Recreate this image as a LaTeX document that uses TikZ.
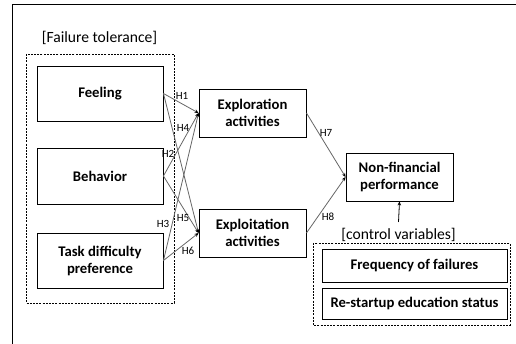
\documentclass[tikz,border=0pt]{standalone}
\usepackage{fontspec}
\setmainfont{Carlito}
\usetikzlibrary{arrows.meta}
\begin{document}
\begin{tikzpicture}[x=1pt,y=-1pt,
  box/.style={draw,line width=0.9pt,align=center,inner sep=0pt,
    font=\bfseries\fontsize{14.7}{17}\selectfont},
  grp/.style={draw,line width=0.9pt,dash pattern=on 2pt off 1.2pt},
  lbl/.style={font=\fontsize{15.6}{17}\selectfont,inner sep=0pt},
  hyp/.style={font=\fontsize{11}{12}\selectfont,inner sep=0pt},
  link/.style={draw=black!60,line width=0.8pt,-{Stealth[length=4pt,width=3.5pt,color=black]}}]
\useasboundingbox (0,0) rectangle (516,344);
\draw[line width=0.9pt] (12,350) -- (12,4) -- (522,4);
% groups
\draw[grp] (26,54) rectangle (174,303);
\draw[grp] (313,243) rectangle (510,325);
\node[lbl] (ft) at (99.5,38) {[Failure tolerance]};
\node[lbl] (cv) at (398.5,235) {[control variables]};
% boxes
\node[box,minimum width=126pt,minimum height=55pt] (feel) at (100,93.5) {Feeling};
\node[box,minimum width=126pt,minimum height=56pt] (beh) at (100,176) {Behavior};
\node[box,minimum width=126pt,minimum height=55pt] (task) at (100,260.5) {Task difficulty\\preference};
\node[box,minimum width=107pt,minimum height=48pt] (explor) at (252.5,113) {Exploration\\activities};
\node[box,minimum width=107pt,minimum height=48pt] (exploit) at (252.5,233) {Exploitation\\activities};
\node[box,minimum width=107pt,minimum height=48pt] (nonfin) at (399.5,177) {Non-financial\\performance};
\node[box,minimum width=185pt,minimum height=33pt] (freq) at (414.5,265.5) {Frequency of failures};
\node[box,minimum width=185pt,minimum height=31pt] (rest) at (414.5,303.5) {Re-startup education status};
% links
\draw[link] (feel.east) -- (explor.west);
\draw[link] (feel.east) -- (exploit.west);
\draw[link] (beh.east) -- (explor.west);
\draw[link] (beh.east) -- (exploit.west);
\draw[link] (task.east) -- (explor.west);
\draw[link] (task.east) -- (exploit.west);
\draw[link] (explor.east) -- (nonfin.west);
\draw[link] (exploit.east) -- (nonfin.west);
\coordinate (cvtop) at (398.5,222);
\draw[line width=0.8pt,-{Stealth[length=4pt,width=3.5pt]}] (cvtop) -- (nonfin.south);
% hypothesis labels
\node[hyp] (h1) at (182,96) {H1};
\node[hyp] (h4) at (183,128) {H4};
\node[hyp] (h2) at (168,154) {H2};
\node[hyp] (h3) at (163,224) {H3};
\node[hyp] (h5) at (183,218) {H5};
\node[hyp] (h6) at (188,251) {H6};
\node[hyp] (h7) at (326,133) {H7};
\node[hyp] (h8) at (328,217) {H8};
\end{tikzpicture}
\end{document}
